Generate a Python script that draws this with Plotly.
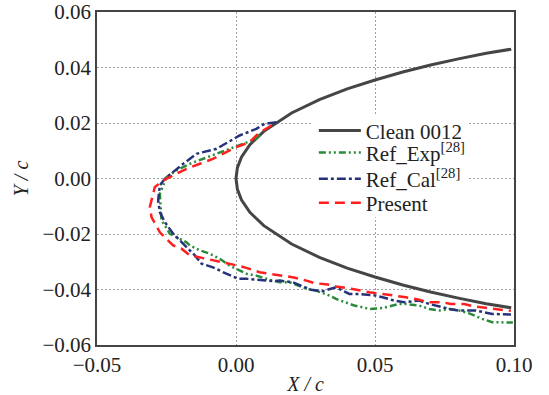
import plotly.graph_objects as go

# Clean NACA 0012 leading-edge contour
clean_x = [0.099, 0.09, 0.08, 0.07, 0.06, 0.05, 0.04, 0.03, 0.02, 0.01, 0.005, 0.002, 0.0005, 0.0,
           0.0005, 0.002, 0.005, 0.01, 0.02, 0.03, 0.04, 0.05, 0.06, 0.07, 0.08, 0.09, 0.099]
clean_y = [0.0466, 0.0451, 0.0431, 0.0409, 0.0384, 0.0355, 0.0323, 0.0284, 0.0236, 0.0170, 0.0122, 0.0078, 0.0039, 0.0,
           -0.0039, -0.0078, -0.0122, -0.0170, -0.0236, -0.0284, -0.0323, -0.0355, -0.0384, -0.0409, -0.0431, -0.0451, -0.0466]

# Ref_Exp[28]
exp_x = [0.0085, 0.0073, 0.0025, -0.0023, -0.0070, -0.0119, -0.0166, -0.0214, -0.0250, -0.0274, -0.0272,
         -0.0268, -0.0256, -0.0238, -0.0178, -0.0166, -0.0130, -0.0095, -0.0059, -0.0023, 0.0037, 0.0073,
         0.0121, 0.0157, 0.0193, 0.0228, 0.0253, 0.0288, 0.0336, 0.0360, 0.0396, 0.0426, 0.0456, 0.0480,
         0.0527, 0.0587, 0.0611, 0.0659, 0.0695, 0.0731, 0.0767, 0.0803, 0.0839, 0.0886, 0.0922, 0.0970, 0.0996]
exp_y = [0.0159, 0.0143, 0.0125, 0.0107, 0.0089, 0.0071, 0.0053, 0.0029, 0.0005, -0.0055, -0.0094,
         -0.0151, -0.0169, -0.0199, -0.0230, -0.0241, -0.0259, -0.0271, -0.0289, -0.0314, -0.0343, -0.0350,
         -0.0365, -0.0374, -0.0374, -0.0386, -0.0397, -0.0404, -0.0422, -0.0434, -0.0446, -0.0458, -0.0464, -0.0470,
         -0.0467, -0.0452, -0.0452, -0.0458, -0.0470, -0.0476, -0.0470, -0.0476, -0.0486, -0.0506, -0.0518, -0.0518, -0.0519]

# Ref_Cal[28]
cal_x = [0.0145, 0.0103, 0.0073, 0.0013, -0.0070, -0.0142, -0.0190, -0.0226, -0.0256, -0.0274, -0.0280,
         -0.0274, -0.0256, -0.0226, -0.0202, -0.0172, -0.0148, -0.0124, -0.0083, -0.0035, 0.0007, 0.0037,
         0.0085, 0.0133, 0.0157, 0.0204, 0.0270, 0.0312, 0.0360, 0.0408, 0.0444, 0.0504, 0.0527, 0.0569,
         0.0605, 0.0659, 0.0695, 0.0767, 0.0803, 0.0863, 0.0922, 0.0989]
cal_y = [0.0203, 0.0197, 0.0179, 0.0155, 0.0107, 0.0089, 0.0053, 0.0023, -0.0001, -0.0025, -0.0079,
         -0.0121, -0.0157, -0.0199, -0.0223, -0.0253, -0.0277, -0.0307, -0.0320, -0.0343, -0.0361, -0.0361,
         -0.0365, -0.0370, -0.0368, -0.0374, -0.0401, -0.0406, -0.0392, -0.0416, -0.0416, -0.0422, -0.0428, -0.0440,
         -0.0446, -0.0440, -0.0452, -0.0470, -0.0476, -0.0476, -0.0488, -0.0490]

# Present
pre_x = [0.0127, 0.0079, 0.0049, 0.0001, -0.0035, -0.0083, -0.0130, -0.0178, -0.0226, -0.0262, -0.0292,
         -0.0310, -0.0304, -0.0274, -0.0226, -0.0196, -0.0166, -0.0130, -0.0083, -0.0047, 0.0007, 0.0037,
         0.0085, 0.0121, 0.0169, 0.0204, 0.0253, 0.0282, 0.0330, 0.0360, 0.0414, 0.0444, 0.0480, 0.0527,
         0.0576, 0.0611, 0.0659, 0.0689, 0.0743, 0.0773, 0.0821, 0.0856, 0.0898, 0.0946, 0.0989]
pre_y = [0.0191, 0.0161, 0.0131, 0.0113, 0.0095, 0.0071, 0.0053, 0.0035, 0.0011, -0.0007, -0.0031,
         -0.0103, -0.0139, -0.0194, -0.0241, -0.0253, -0.0277, -0.0284, -0.0295, -0.0302, -0.0314, -0.0322,
         -0.0338, -0.0343, -0.0350, -0.0356, -0.0368, -0.0377, -0.0382, -0.0389, -0.0397, -0.0404, -0.0410, -0.0416,
         -0.0422, -0.0428, -0.0437, -0.0446, -0.0446, -0.0452, -0.0452, -0.0461, -0.0466, -0.0473, -0.0477]

x_ticks = [-0.05, 0.00, 0.05, 0.10]
y_ticks = [-0.06, -0.04, -0.02, 0.00, 0.02, 0.04, 0.06]

FONT = "Liberation Serif, Times New Roman, serif"

fig = go.Figure()
fig.add_trace(go.Scatter(x=clean_x, y=clean_y, mode="lines", name="Clean 0012", legend="legend",
                         line=dict(color="#454545", width=3)))
fig.add_trace(go.Scatter(x=exp_x, y=exp_y, mode="lines", name="Ref_Exp<sup>[28]</sup>", legend="legend2",
                         line=dict(color="#2a8a3a", width=2.5, dash="7px,3px,2px,3px,2px,3px")))
fig.add_trace(go.Scatter(x=cal_x, y=cal_y, mode="lines", name="Ref_Cal<sup>[28]</sup>", legend="legend3",
                         line=dict(color="#26337a", width=2.5, dash="9px,3px,3px,3px")))
fig.add_trace(go.Scatter(x=pre_x, y=pre_y, mode="lines", name="Present", legend="legend4",
                         line=dict(color="#ff1f1f", width=2.5, dash="10px,6px")))

axis_common = dict(
    showgrid=True, gridcolor="#a0a0a0", gridwidth=1, griddash="2px,2px",
    showline=True, linecolor="#444444", linewidth=1.5, mirror=True,
    ticks="", zeroline=False, tickformat=".2f", automargin=False,
    tickfont=dict(family=FONT, size=21, color="#222"),
)

fig.update_xaxes(range=[-0.05, 0.10], tickvals=x_ticks, **axis_common,
                 title=dict(text="<i>X / c</i>", font=dict(family=FONT, size=20, color="#222"), standoff=2))
fig.update_yaxes(range=[-0.06, 0.06], tickvals=y_ticks, **axis_common,
                 title=dict(text="<i>Y / c</i>", font=dict(family=FONT, size=20, color="#222"), standoff=8))

leg_font = dict(family=FONT, size=21, color="#222")
def leg(yc):
    return dict(x=0.52, y=yc, xanchor="left", yanchor="middle", bgcolor="rgba(0,0,0,0)",
                borderwidth=0, font=leg_font, itemwidth=42)

# white box behind the legend entries (hides grid lines like the reference)
fig.add_shape(type="rect", xref="paper", yref="paper", x0=0.517, x1=0.89, y0=0.384, y1=0.691,
              fillcolor="white", line=dict(width=0), layer="above")

fig.update_layout(
    width=549, height=395,
    margin=dict(l=97, r=35, t=12, b=50),
    plot_bgcolor="white", paper_bgcolor="white",
    font=dict(family=FONT, color="#222"),
    legend=leg(0.643),
    legend2=leg(0.577),
    legend3=leg(0.498),
    legend4=leg(0.426),
    showlegend=True,
)

fig.write_html("out.html")
